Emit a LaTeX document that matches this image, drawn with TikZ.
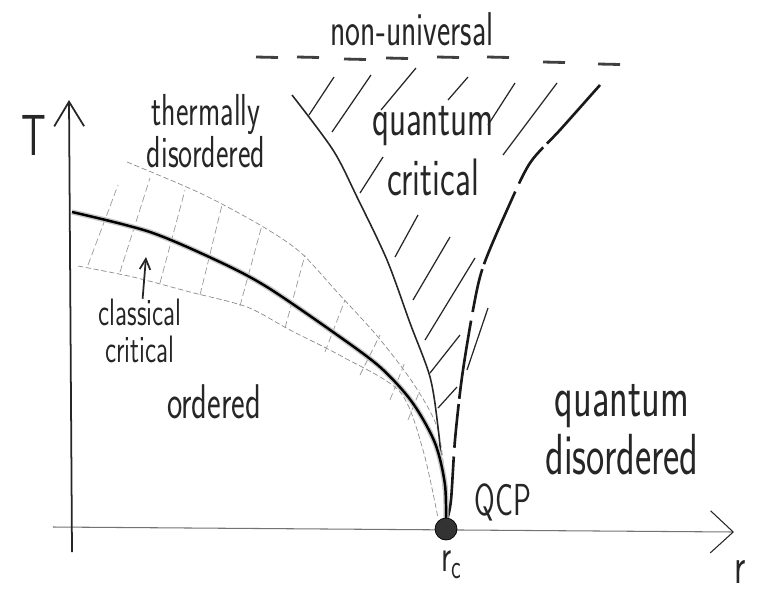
\documentclass[tikz,border=0pt]{standalone}
\usepackage{graphicx}
\usetikzlibrary{arrows.meta,positioning}

\newcommand{\hw}[1]{\scalebox{1}[1.5]{#1}}

\begin{document}
\begin{tikzpicture}[x=0.02cm,y=-0.02cm,
 hand/.style 2 args={font=\sffamily\fontsize{#1}{#2}\selectfont,text=black!85,align=center,inner sep=0pt},
 axis/.style={line width=1pt,black!85},
 haxis/.style={line width=0.6pt,black!55},
 phase/.style={line width=1.4pt,black},
 halo/.style={draw,line width=3pt,black!22},
 cone/.style={line width=0.9pt,black!85},
 conebold/.style={line width=1.5pt,black!90,dash pattern=on 45pt off 3pt on 25pt off 5pt},
 fan/.style={line width=0.4pt,black!45,dash pattern=on 3pt off 1.5pt},
 hatch/.style={line width=0.4pt,black!40,dash pattern=on 4pt off 2pt},
 conehatch/.style={line width=0.7pt,black!85},
 topdash/.style={line width=1.6pt,black!75},
 qcpdot/.style={circle,fill=black!80,draw=black,minimum size=0.44cm,inner sep=0pt}]
 \useasboundingbox (0,0) rectangle (767,592);
 % axes
 \coordinate (vbot) at (72,552);
 \coordinate (vtop) at (69,100);
 \coordinate (hleft) at (53,527);
 \coordinate (hright) at (734,532);
 \draw[haxis,-{Straight Barb[length=13pt,width=24pt,color=black!85]}] (hleft) -- (hright);
 \draw[axis,-{Straight Barb[length=14pt,width=17pt]}] (vbot) -- (vtop);
 \node[hand={22}{26}] (Tlab) at (34,135) {\hw{T}};
 \node[hand={20}{24}] (rlab) at (740,572) {\hw{r}};
 % classical critical fan
 \draw[fan] plot[smooth] coordinates {(127,162) (200,193) (260,225) (300,252) (338,293) (378,337) (413,383) (437,427) (445,480) (446,518)};
 \draw[fan] plot[smooth] coordinates {(78,266) (133,277) (190,292) (247,307) (290,330) (343,357) (400,392) (423,450) (438,518)};
 \foreach \a/\b/\c/\d in {88/265/118/185,120/272/150/178,160/283/185/190,200/295/222/205,240/306/262/225,
   285/328/305/255,325/352/345/300,360/375/380/335,390/400/405/362,408/420/420/390}
  \draw[hatch] (\a,\b) -- (\c,\d);
 % quantum critical cone
 \draw[cone] plot[smooth] coordinates {(292,95) (333,150) (357,197) (387,260) (410,323) (430,377) (438,427) (443,480) (446,520)};
 \draw[conebold] plot[smooth] coordinates {(600,85) (560,130) (530,163) (507,210) (483,267) (473,310) (462,377) (455,440) (451,500) (447,520)};
 \foreach \a/\b/\c/\d in {334/77/309/115,371/75/332/132,416/68/381/110,468/77/448/100,515/83/488/125,557/83/503/155,
   383/157/360/193,418/215/395/257,450/237/413/300,475/258/425/340,460/335/430/373,457/387/438/408,488/308/467/370}
  \draw[conehatch] (\a,\b) -- (\c,\d);
 % phase boundary
 \draw[phase,preaction={halo}] plot[smooth] coordinates {(72,212) (150,232) (220,262) (267,287) (333,332) (380,367) (412,402) (435,443) (445,485) (446,529)};
 \node[qcpdot] (qcp) at (446,529) {};
 \node[hand={17}{20}] (qcplab) at (503,502) {\hw{QCP}};
 \node[hand={18}{20}] (rc) at (452,565) {\hw{r\textsubscript{c}}};
 % top dashes
 \foreach \x/\y in {267/57,308/57,355/59,397/58,448/57,498/57,554/62,609/64}
  \draw[topdash] (\x-11,\y) -- (\x+11,\y+0.5);
 % region labels
 \node[hand={18}{38}] (nonuni) at (412,29) {\hw{non-universal}};
 \node[hand={17}{22}] (therm) at (206,131) {\hw{thermally}\\\hw{disordered}};
 \node[hand={20}{34}] (qcrit) at (433,151) {\hw{quantum}\\\hw{critical}};
 \node[hand={14.5}{21}] (cc) at (140,331) {\hw{classical}\\\hw{critical}};
 \node[hand={18.5}{22}] (ordered) at (214,402) {\hw{ordered}};
 \node[hand={22}{33}] (qdis) at (622,430) {\hw{quantum}\\\hw{disordered}};
 \coordinate (ccend) at (146,257);
 \draw[axis,-{Straight Barb[length=6pt,width=6pt]}] (cc) -- (ccend);
\end{tikzpicture}
\end{document}
